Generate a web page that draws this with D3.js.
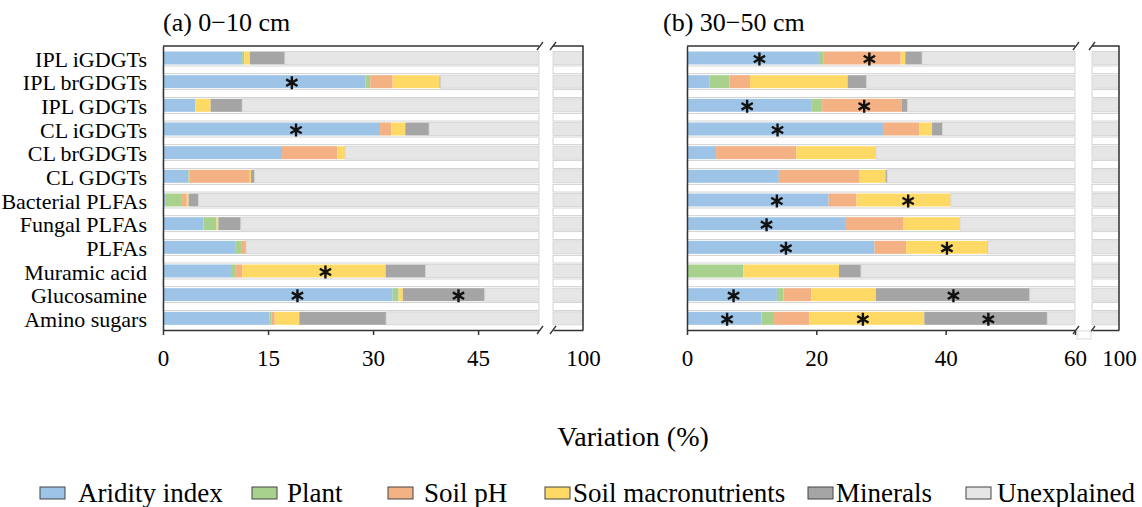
<!DOCTYPE html>
<html>
<head>
<meta charset="utf-8">
<script src="https://cdn.jsdelivr.net/npm/d3@7"></script>
<style>
  body { margin: 0; background: #fff; }
  text { font-family: "Liberation Serif", "Times New Roman", serif; fill: #000; }
</style>
</head>
<body>
<svg id="chart" width="1142" height="507" font-family="Liberation Serif, serif"></svg>
<script>
const categories = ["IPL iGDGTs", "IPL brGDGTs", "IPL GDGTs", "CL iGDGTs", "CL brGDGTs", "CL GDGTs",
  "Bacterial PLFAs", "Fungal PLFAs", "PLFAs", "Muramic acid", "Glucosamine", "Amino sugars"];
const seriesNames = ["Aridity index", "Plant", "Soil pH", "Soil macronutrients", "Minerals", "Unexplained"];
const colors = ["#9dc3e6", "#a9d18e", "#f4b183", "#ffd966", "#a5a5a5", "#e6e6e6"];

// (a) 0-10 cm
const aridityA   = [11.3, 28.9, 4.6, 31.0, 17.0, 3.6, 0.4, 5.8, 10.3, 9.7, 32.8, 15.2];
const plantA     = [0.3, 0.7, 0, 0, 0, 0.2, 2.3, 1.85, 0.85, 0.7, 0.85, 0.26];
const phA        = [0, 3.2, 0, 1.6, 7.9, 8.6, 0.7, 0, 0.6, 0.9, 0, 0.5];
const nutrientsA = [0.8, 6.7, 2.2, 2.0, 1.1, 0.16, 0.25, 0.26, 0, 20.5, 0.6, 3.5];
const mineralsA  = [5.0, 0.15, 4.5, 3.4, 0, 0.5, 1.4, 3.2, 0.1, 5.7, 11.7, 12.4];
const starsA = [[1, 18.4], [3, 19.0], [9, 23.2], [10, 19.2], [10, 42.2]];
const ticksA = [0, 15, 30, 45];

// (b) 30-50 cm
const aridityB   = [20.4, 3.5, 19.2, 30.3, 4.5, 14.2, 21.9, 24.6, 29.0, 0, 13.9, 11.5];
const plantB     = [0.65, 3.05, 1.7, 0, 0, 0, 0, 0, 0, 8.7, 1.0, 1.8];
const phB        = [12.0, 3.2, 12.3, 5.6, 12.4, 12.5, 4.3, 8.9, 4.9, 0, 4.3, 5.6];
const nutrientsB = [0.7, 15.1, 0, 2.0, 12.3, 4.0, 14.6, 8.7, 12.5, 14.8, 10.0, 17.8];
const mineralsB  = [2.6, 2.9, 0.9, 1.6, 0, 0.25, 0, 0, 0.1, 3.4, 23.8, 19.0];
const starsB = [[0, 11.2], [0, 28.2], [2, 9.3], [2, 27.4], [3, 14.0], [6, 13.9], [6, 34.2], [7, 12.3],
  [8, 15.3], [8, 40.2], [10, 7.2], [10, 41.2], [11, 6.2], [11, 27.2], [11, 46.6]];
const ticksB = [0, 20, 40, 60];

const svg = d3.select("#chart");
const plotTop = 46, plotBottom = 330;
const y = d3.scaleBand().domain(categories).range([plotTop, plotBottom]);
const axisColor = "#333";

function drawPanel(p) {
  const x = d3.scaleLinear().domain([0, p.mainMax]).range([p.left, p.breakX]).clamp(true);
  const xr = d3.scaleLinear().domain([p.rightMin, 100]).range([p.rightX, p.right]).clamp(true);

  const rows = categories.map((c, i) => {
    const r = { cat: c };
    p.values.forEach((v, k) => r[seriesNames[k]] = v[i]);
    r["Unexplained"] = 100 - d3.sum(p.values, v => v[i]);
    return r;
  });
  const stacked = d3.stack().keys(seriesNames)(rows);

  const g = svg.append("g");

  // white spacer bars
  categories.slice(0, -1).forEach(c => {
    [[p.left, p.breakX], [p.rightX, p.right]].forEach(([a, b]) => {
      g.append("rect")
        .attr("x", a).attr("y", y(c) + 20)
        .attr("width", b - a).attr("height", 7.7)
        .attr("fill", "#fff").attr("stroke", "#c8c8c8").attr("stroke-width", 0.8);
    });
  });

  stacked.forEach((layer, k) => {
    const lg = g.append("g").attr("fill", colors[k]);
    layer.forEach(d => {
      const w = x(d[1]) - x(d[0]);
      if (w > 0) {
        lg.append("rect")
          .attr("x", x(d[0])).attr("y", y(d.data.cat) + 5.5)
          .attr("width", w).attr("height", 13)
          .attr("stroke", k === 5 ? "#d2d2d2" : "none").attr("stroke-width", 0.8);
      }
      const wr = xr(d[1]) - xr(d[0]);
      if (wr > 0) {
        lg.append("rect")
          .attr("x", xr(d[0])).attr("y", y(d.data.cat) + 5.5)
          .attr("width", wr).attr("height", 13)
          .attr("stroke", "#d2d2d2").attr("stroke-width", 0.8);
      }
    });
  });

  // significance stars
  const star = d3.symbol(d3.symbolAsterisk, 120);
  g.selectAll(".star")
    .data(p.stars)
    .join("path")
    .attr("d", star)
    .attr("transform", d => `translate(${x(d[1])},${y(categories[d[0]]) + 13})`)
    .attr("stroke", "#111").attr("stroke-width", 2.4).attr("fill", "none");

  // left axis
  const ya = g.append("g")
    .attr("transform", `translate(${p.left},0)`)
    .call(d3.axisLeft(y).tickSize(0).tickSizeOuter(0).tickPadding(16)
      .tickFormat(p.labels ? d => d : () => ""));
  ya.selectAll("text").attr("font-size", 22).attr("dy", "0.4em");

  // bottom axes
  const xa = g.append("g")
    .attr("transform", `translate(0,${plotBottom})`)
    .call(d3.axisBottom(x).tickValues(p.ticks).tickSize(5).tickSizeOuter(0).tickPadding(15));
  const xb = g.append("g")
    .attr("transform", `translate(0,${plotBottom})`)
    .call(d3.axisBottom(xr).tickValues([100]).tickFormat(d3.format("d"))
      .tickSize(0).tickSizeOuter(0).tickPadding(20));
  [ya, xa, xb].forEach(a => {
    a.attr("font-family", null).attr("font-size", null);
    a.selectAll("path, line").attr("stroke", axisColor).attr("stroke-width", 1.5);
  });
  [xa, xb].forEach(a => a.selectAll("text").attr("font-size", 23));

  // frame: top lines and right edge
  g.append("path")
    .attr("d", `M${p.left},${plotTop}H${p.breakX}M${p.rightX},${plotTop}H${p.right}V${plotBottom}`)
    .attr("fill", "none").attr("stroke", axisColor).attr("stroke-width", 1.5);

  // break marks
  [plotTop, plotBottom].forEach(yy => {
    [p.breakX + 1, p.rightX].forEach(xx => {
      g.append("line")
        .attr("x1", xx - 3).attr("y1", yy + 4).attr("x2", xx + 3).attr("y2", yy - 4)
        .attr("stroke", axisColor).attr("stroke-width", 1.3);
    });
  });

  g.append("text")
    .attr("x", p.titleX).attr("y", 31)
    .attr("font-size", 26)
    .text(p.title);
}

drawPanel({
  title: "(a) 0\u221210 cm", titleX: 163, labels: true,
  left: 163, breakX: 539, rightX: 553, right: 583, mainMax: 53.7, rightMin: 95,
  values: [aridityA, plantA, phA, nutrientsA, mineralsA], stars: starsA, ticks: ticksA
});
drawPanel({
  title: "(b) 30\u221250 cm", titleX: 663, labels: false,
  left: 687, breakX: 1075, rightX: 1092, right: 1119, mainMax: 60, rightMin: 95,
  values: [aridityB, plantB, phB, nutrientsB, mineralsB], stars: starsB, ticks: ticksB
});

// small box under the axis break of panel b
svg.append("rect")
  .attr("x", 1077).attr("y", 331).attr("width", 14).attr("height", 8)
  .attr("fill", "#fff").attr("stroke", "#d0d0d0").attr("stroke-width", 0.8);

svg.append("text")
  .attr("x", 633).attr("y", 446)
  .attr("text-anchor", "middle")
  .attr("font-size", 28)
  .text("Variation (%)");

// legend
const legendSwatchX = [40, 252, 388, 545, 808, 966];
const legendTextX = [78, 287, 424, 573, 836, 997];
const legend = svg.append("g");
seriesNames.forEach((name, i) => {
  legend.append("rect")
    .attr("x", legendSwatchX[i]).attr("y", 487)
    .attr("width", 25).attr("height", 12)
    .attr("fill", colors[i]).attr("stroke", "#444").attr("stroke-width", 1);
  legend.append("text")
    .attr("x", legendTextX[i]).attr("y", 502)
    .attr("font-size", 27)
    .text(name);
});
</script>
</body>
</html>
